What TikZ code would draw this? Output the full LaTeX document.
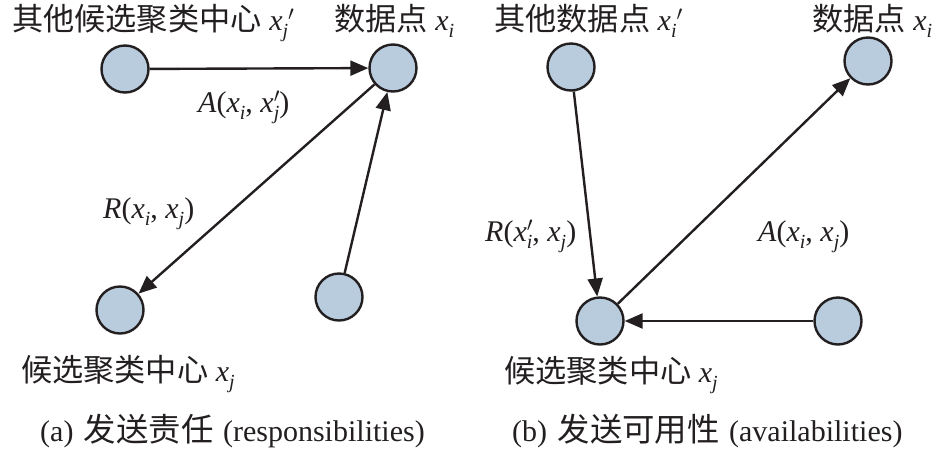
\documentclass[tikz,border=0pt]{standalone}
\usepackage{fontspec}
\setmainfont{Liberation Serif}
\newfontfamily\cjk[Scale=1.04]{Noto Sans CJK SC}
\newfontfamily\cjkcap[Scale=1.08]{Noto Sans CJK SC}
\usetikzlibrary{arrows.meta}
\definecolor{nodefill}{RGB}{185,204,222}
\definecolor{edgec}{RGB}{35,31,32}
\newcommand\sub[1]{\raisebox{-0.26em}{\fontsize{20}{20}\selectfont\textit{#1}}}
\newcommand\pr{\ensuremath{{}^{\prime}}}
\newcommand\xv{\textit{x}}
\begin{document}
\begin{tikzpicture}[x=1pt,y=-1pt,
  dot/.style={circle, draw=edgec, line width=2.4pt, fill=nodefill, minimum size=47pt, inner sep=0pt},
  lbl/.style={anchor=base west, inner sep=0pt, text=edgec, font=\fontsize{30}{34}\selectfont},
  arr/.style={draw=edgec, line width=2.4pt, -{Triangle[length=18pt,width=15pt]}}]
\useasboundingbox (0,0) rectangle (945,456);
% left panel
\node[dot] (oc) at (125,69) {};
\node[dot] (dp) at (393,68) {};
\node[dot] (cc) at (120,310) {};
\node[dot] (od) at (339,297) {};
\draw[arr] (oc) -- (dp);
\draw[arr] (dp) -- (cc);
\draw[arr] (od) -- (dp);
\node[lbl] (t1) at (12,30) {{\cjk 其他候选聚类中心} \xv\sub{j}\pr};
\node[lbl] (t2) at (334,30) {{\cjk 数据点} \xv\sub{i}};
\node[lbl] (t3) at (198,112) {\textit{A}(\xv\sub{i}, \xv\rlap{\pr}\sub{j})};
\node[lbl] (t4) at (103,218) {\textit{R}(\xv\sub{i}, \xv\sub{j})};
\node[lbl] (t5) at (21,381) {{\cjk 候选聚类中心} \xv\sub{j}};
\node[lbl] (t6) at (40,441) {(a)\hspace{3pt} {\cjkcap 发送责任}\hspace{2pt} (responsibilities)};
% right panel
\node[dot] (od2) at (571,67) {};
\node[dot] (dp2) at (868,61) {};
\node[dot] (cc2) at (600,321) {};
\node[dot] (oo2) at (838,321) {};
\draw[arr] (od2) -- (cc2);
\draw[arr] (cc2) -- (dp2);
\draw[arr] (oo2) -- (cc2);
\node[lbl] (u1) at (494,30) {{\cjk 其他数据点} \xv\sub{i}\pr};
\node[lbl] (u2) at (812,30) {{\cjk 数据点} \xv\sub{i}};
\node[lbl] (u3) at (485,241) {\textit{R}(\xv\rlap{\pr}\sub{i}, \xv\sub{j})};
\node[lbl] (u4) at (758,241) {\textit{A}(\xv\sub{i}, \xv\sub{j})};
\node[lbl] (u5) at (504,382) {{\cjk 候选聚类中心} \xv\sub{j}};
\node[lbl] (u6) at (512,441) {(b)\hspace{3pt} {\cjkcap 发送可用性}\hspace{2pt} (availabilities)};
\end{tikzpicture}
\end{document}
